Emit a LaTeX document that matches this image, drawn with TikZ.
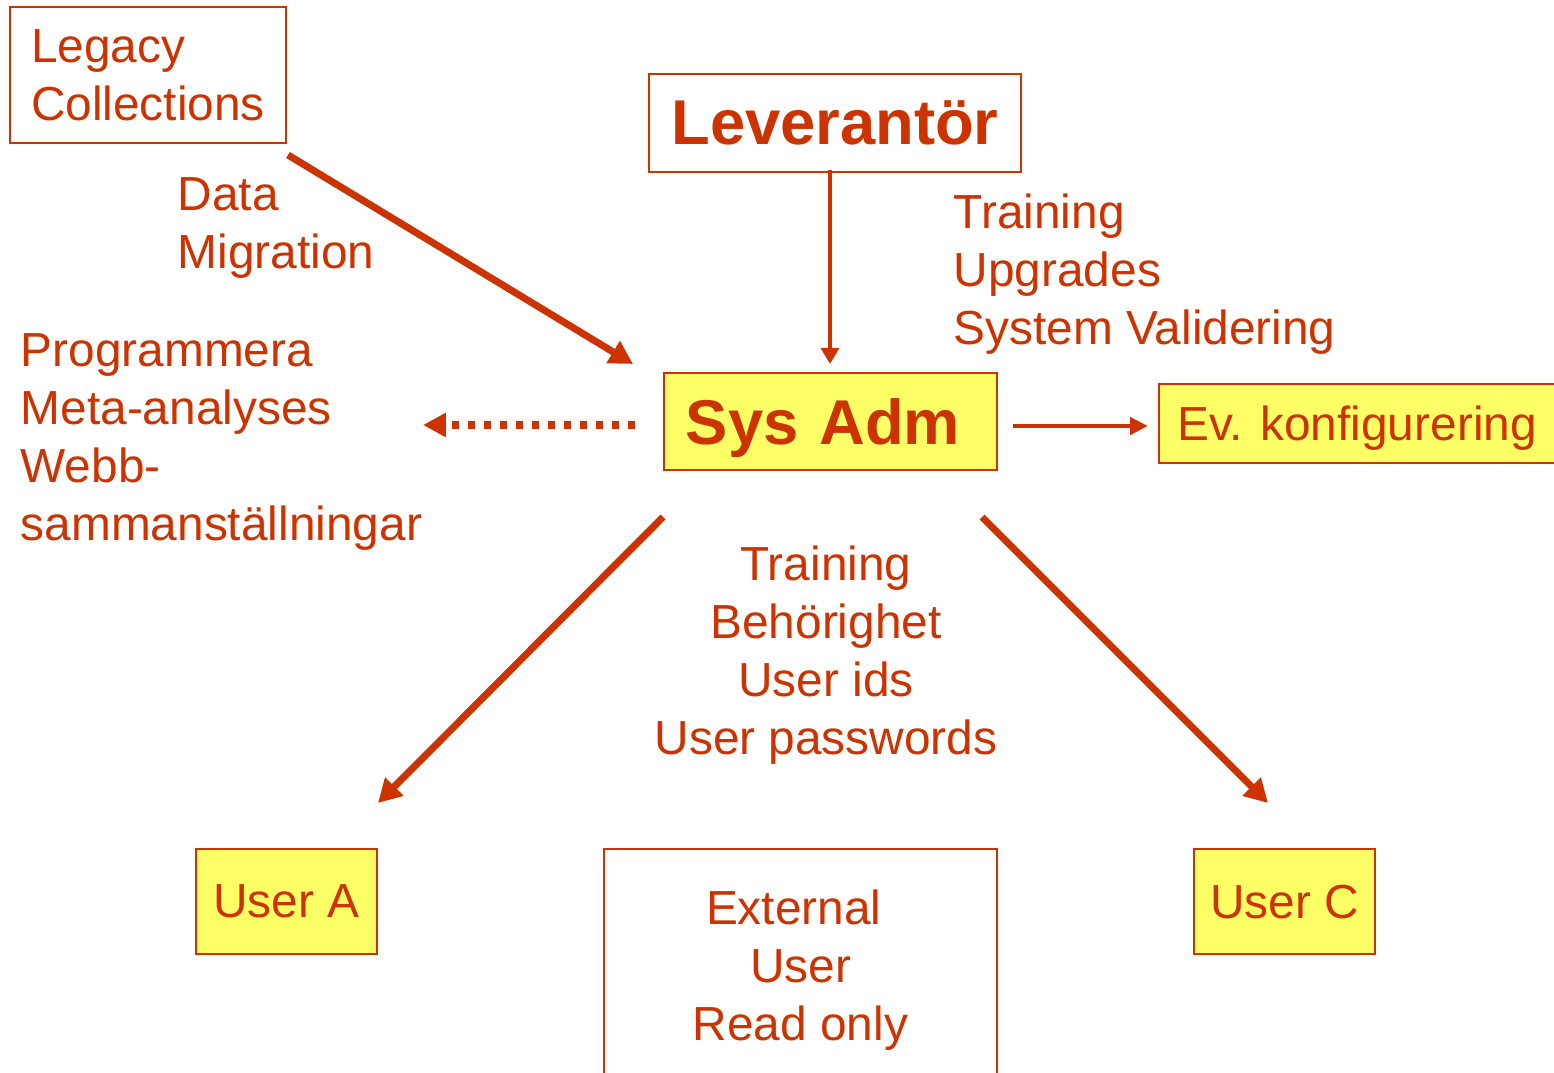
\documentclass[tikz,border=0pt]{standalone}
\usepackage{fontspec}
\setmainfont{Liberation Sans}
\usetikzlibrary{arrows.meta}
\definecolor{rust}{HTML}{CC3300}
\definecolor{paleyellow}{HTML}{FFFF66}

\begin{document}
\begin{tikzpicture}[x=0.01cm, y=-0.01cm, text=rust,
    font=\fontsize{13.6}{16.5}\selectfont,
    box/.style={draw=rust, line width=0.6pt, inner sep=0pt},
    yellowbox/.style={box, fill=paleyellow},
    bigfont/.style={font=\fontsize{18}{21}\selectfont\bfseries},
    label/.style={inner sep=0pt, anchor=north west, align=left},
    flow/.style={draw=rust, line width=2pt, -{Triangle[length=6.6pt,width=7pt]}},
    thinflow/.style={draw=rust, line width=1.4pt, -{Triangle[length=4.6pt,width=5.1pt]}},
    midflow/.style={draw=rust, line width=1.4pt, -{Triangle[length=5.1pt,width=4.8pt]}},
    dotflow/.style={draw=rust, line width=2pt, dash pattern=on 2pt off 2.55pt,
        -{Triangle[length=6.5pt,width=6.5pt]}}]
    % Units are pixels of the 1554 x 1073 slide, y grows downwards
    \useasboundingbox (0,0) rectangle (1554,1073);

    % --- BOXES ---
    \node[box, minimum width=2.76cm, minimum height=1.36cm, align=left]
        (legacy) at (148,75) {Legacy\\Collections};
    \node[box, bigfont, minimum width=3.72cm, minimum height=0.98cm, text depth=0pt]
        (vendor) at (835,123) {Leverantör};
    \node[yellowbox, bigfont, text width=2.89cm, inner xsep=0.22cm,
        minimum height=0.97cm, text depth=0pt] (sysadm) at (830.5,421.5) {Sys Adm};
    \node[yellowbox, minimum width=3.96cm, minimum height=0.79cm, text depth=0pt]
        (config) at (1357,423.5) {Ev. konfigurering};
    \node[yellowbox, minimum width=1.81cm, minimum height=1.05cm, text depth=0pt]
        (usera) at (286.5,901.5) {User A};
    \node[yellowbox, minimum width=1.81cm, minimum height=1.05cm, text depth=0pt]
        (userc) at (1284.5,901.5) {User C};
    \node[box, minimum width=3.93cm, minimum height=2.32cm, align=center, text depth=0pt]
        (external) at (800.5,965) {External\hspace*{0.28em}\\User\\Read only};

    % --- FREE TEXTS ---
    \node[label] (migration) at (177,177) {Data\\Migration};
    \node[label] (vendortasks) at (953,193) {Training\\Upgrades\\System Validering};
    \node[label] (localtasks) at (20,333)
        {Programmera\\Meta-analyses\\Webb-\\sammanställningar};
    \node[label, anchor=north, align=center] (admintasks) at (826,545)
        {Training\\Behörighet\\User ids\\User passwords};

    % --- ARROW END POINTS ---
    \coordinate (legacy_out) at (288,155);
    \coordinate (legacy_in) at (633,364);
    \coordinate (vendor_out) at (830,170);
    \coordinate (vendor_in) at (830,364);
    \coordinate (local_out) at (635,425);
    \coordinate (local_in) at (423,425);
    \coordinate (config_out) at (1013,426);
    \coordinate (config_in) at (1148,426);
    \coordinate (usera_out) at (663,517);
    \coordinate (usera_in) at (378,803);
    \coordinate (userc_out) at (982,517);
    \coordinate (userc_in) at (1268,803);

    % --- ARROWS ---
    \draw[flow] (legacy_out) -- (legacy_in);
    \draw[thinflow] (vendor_out) -- (vendor_in);
    \draw[dotflow] (local_out) -- (local_in);
    \draw[midflow] (config_out) -- (config_in);
    \draw[flow] (usera_out) -- (usera_in);
    \draw[flow] (userc_out) -- (userc_in);
\end{tikzpicture}
\end{document}
